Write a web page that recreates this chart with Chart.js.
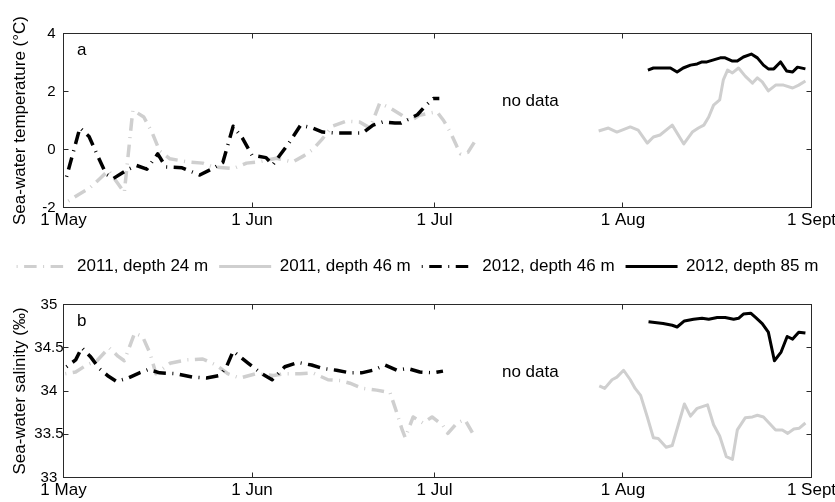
<!DOCTYPE html>
<html><head><meta charset="utf-8">
<script src="https://cdn.jsdelivr.net/npm/chart.js@4/dist/chart.umd.min.js"></script>
<style>
html,body{margin:0;padding:0;background:#fff;width:835px;height:502px;overflow:hidden;}
#ca{position:absolute;left:0;top:0;}
#cb{position:absolute;left:0;top:247px;}
</style></head><body>
<canvas id="ca" width="835" height="240"></canvas>
<canvas id="cb" width="835" height="255"></canvas>
<script>
// ---- axis ticks ----
const xTickDays = [0, 31, 61, 92, 123];            // days since 1 May
const xTickLabels = ['1 May', '1 Jun', '1 Jul', '1 Aug', '1 Sept'];
const tempTicks = [-2, 0, 2, 4];
const salTicks = [33, 33.5, 34, 34.5, 35];
const seriesLabels = ['2011, depth 24 m', '2011, depth 46 m', '2012, depth 46 m', '2012, depth 85 m'];

// ---- panel a: temperature (°C) ----
const tempDays_2011_24 = [0.8, 2.5, 4.3, 6.0, 7.4, 8.7, 10.0, 11.4, 13.2, 14.6, 15.8, 17.5, 20.2, 22.9, 24.6, 27.9, 30.1, 32.3, 35.0, 37.7, 39.5, 41.0, 42.5, 44.2, 46.5, 48.7, 50.4, 52.0, 53.7, 55.5, 57.0, 58.5, 60.0, 61.4, 62.5, 63.6, 64.7, 65.3, 66.5, 67.8];
const temp_2011_24 = [-1.78, -1.55, -1.33, -1.0, -0.72, -1.1, -1.48, 1.36, 1.12, 0.57, -0.05, -0.32, -0.42, -0.47, -0.6, -0.66, -0.47, -0.42, -0.3, -0.43, -0.22, 0.0, 0.35, 0.8, 0.98, 0.95, 0.74, 1.6, 1.43, 1.2, 0.98, 1.18, 1.25, 1.3, 1.0, 0.6, 0.1, -0.15, -0.1, 0.33];
const tempDays_2011_46 = [88.0, 89.6, 91.0, 93.2, 94.5, 96.0, 97.0, 98.1, 100.1, 102.0, 103.4, 104.4, 105.3, 106.1, 106.9, 107.9, 108.5, 109.2, 110.0, 111.0, 112.1, 113.3, 114.1, 114.9, 115.9, 117.1, 118.4, 119.9, 120.9, 122.0];
const temp_2011_46 = [0.64, 0.74, 0.6, 0.78, 0.67, 0.22, 0.43, 0.5, 0.84, 0.19, 0.6, 0.74, 0.84, 1.12, 1.53, 1.71, 2.4, 2.74, 2.64, 2.81, 2.53, 2.29, 2.47, 2.33, 2.02, 2.22, 2.22, 2.12, 2.22, 2.36];
const tempDays_2012_46 = [0.5, 2.7, 4.2, 5.8, 7.0, 8.2, 10.3, 12.0, 13.7, 15.5, 16.8, 19.5, 22.4, 24.5, 26.2, 27.9, 29.4, 31.0, 33.3, 34.4, 37.0, 39.0, 41.0, 42.6, 44.5, 47.5, 49.2, 50.9, 52.5, 54.5, 55.5, 56.8, 58.2, 59.5, 60.8, 61.8];
const temp_2012_46 = [-0.94, 0.75, 0.45, -0.3, -0.85, -1.0, -0.72, -0.55, -0.68, -0.15, -0.6, -0.63, -0.88, -0.66, -0.45, 0.8, 0.4, -0.2, -0.28, -0.53, 0.2, 0.84, 0.74, 0.6, 0.57, 0.57, 0.57, 0.84, 0.95, 0.91, 0.91, 1.05, 1.2, 1.5, 1.76, 1.76];
const tempDays_2012_85 = [96.1, 97.0, 99.8, 100.9, 101.9, 103.1, 104.2, 105.0, 105.8, 106.9, 108.0, 108.8, 110.0, 110.8, 111.8, 113.1, 114.1, 115.1, 115.9, 116.8, 117.9, 118.9, 119.9, 120.7, 122.0];
const temp_2012_85 = [2.74, 2.81, 2.81, 2.67, 2.81, 2.91, 2.95, 3.02, 3.02, 3.09, 3.16, 3.16, 3.05, 3.05, 3.19, 3.29, 3.16, 2.91, 2.78, 2.78, 3.02, 2.71, 2.67, 2.84, 2.78];

// ---- panel b: salinity (‰) ----
const salDays_2011_24 = [0.3, 2.0, 3.8, 5.5, 7.5, 9.0, 10.0, 11.7, 13.0, 14.2, 15.2, 17.5, 20.2, 22.9, 25.1, 27.0, 29.0, 31.7, 34.5, 36.5, 38.9, 41.0, 43.5, 45.5, 47.1, 49.2, 51.5, 53.7, 54.8, 55.7, 56.2, 57.5, 59.1, 60.6, 62.4, 63.2, 64.7, 66.0, 67.3];
const sal_2011_24 = [34.2, 34.22, 34.3, 34.35, 34.5, 34.4, 34.35, 34.67, 34.63, 34.44, 34.2, 34.32, 34.36, 34.37, 34.3, 34.2, 34.15, 34.2, 34.18, 34.2, 34.2, 34.21, 34.13, 34.12, 34.09, 34.03, 34.01, 33.98, 33.75, 33.55, 33.46, 33.7, 33.63, 33.7, 33.6, 33.51, 33.63, 33.67, 33.51];
const salDays_2011_46 = [88.1, 89.0, 90.2, 91.0, 92.1, 93.2, 94.0, 94.9, 96.0, 97.0, 97.8, 99.1, 100.1, 101.1, 102.1, 103.1, 104.2, 105.9, 106.9, 107.9, 109.0, 110.0, 110.8, 112.1, 113.3, 114.1, 115.1, 117.1, 118.2, 119.1, 120.1, 121.0, 122.0];
const sal_2011_46 = [34.06, 34.03, 34.13, 34.16, 34.24, 34.13, 34.03, 33.95, 33.7, 33.46, 33.45, 33.35, 33.37, 33.61, 33.85, 33.71, 33.8, 33.84, 33.61, 33.48, 33.24, 33.21, 33.55, 33.69, 33.7, 33.72, 33.7, 33.55, 33.55, 33.51, 33.56, 33.57, 33.63];
const salDays_2012_46 = [0.5, 2.0, 3.0, 4.4, 5.9, 7.4, 8.7, 10.6, 12.5, 14.0, 15.8, 18.5, 21.3, 23.5, 25.7, 26.8, 27.9, 30.4, 32.6, 34.3, 36.4, 38.6, 40.8, 42.7, 44.9, 47.1, 49.0, 50.9, 52.9, 54.8, 56.6, 58.6, 60.8, 62.4];
const sal_2012_46 = [34.28, 34.36, 34.5, 34.4, 34.26, 34.17, 34.11, 34.15, 34.21, 34.25, 34.21, 34.2, 34.16, 34.15, 34.18, 34.28, 34.46, 34.32, 34.2, 34.13, 34.28, 34.33, 34.3, 34.26, 34.24, 34.21, 34.21, 34.24, 34.3, 34.24, 34.26, 34.22, 34.21, 34.23];
const salDays_2012_85 = [96.2, 98.6, 100.1, 100.9, 102.1, 103.6, 105.0, 106.1, 107.5, 108.8, 110.2, 111.0, 111.8, 113.0, 113.8, 114.9, 115.9, 116.9, 118.0, 119.0, 119.9, 120.9, 122.0];
const sal_2012_85 = [34.8, 34.78, 34.76, 34.74, 34.81, 34.83, 34.84, 34.83, 34.85, 34.85, 34.83, 34.84, 34.89, 34.9, 34.85, 34.78, 34.68, 34.35, 34.45, 34.63, 34.6, 34.68, 34.67];

// ---- styling ----
const GREY = '#cfcfcf', BLACK = '#000000';
const DASHDOT = [1, 6.5, 12.5, 6.5];
const FONT = "'Liberation Sans', Arial, Helvetica, sans-serif";
Chart.defaults.font.family = FONT;
Chart.defaults.color = '#000';

const pts = (d, v) => d.map((x, i) => ({x, y: v[i]}));
function makeSets(d1, v1, d2, v2, d3, v3, d4, v4) {
  const base = {pointRadius: 0, tension: 0, fill: false, borderCapStyle: 'butt', borderJoinStyle: 'round'};
  return [
    Object.assign({label: seriesLabels[0], data: pts(d1, v1), borderColor: GREY, borderWidth: 3.5, borderDash: DASHDOT, order: 2}, base),
    Object.assign({label: seriesLabels[1], data: pts(d2, v2), borderColor: GREY, borderWidth: 3, borderDash: [], order: 2}, base),
    Object.assign({label: seriesLabels[2], data: pts(d3, v3), borderColor: BLACK, borderWidth: 3.5, borderDash: DASHDOT, order: 1}, base),
    Object.assign({label: seriesLabels[3], data: pts(d4, v4), borderColor: BLACK, borderWidth: 3, borderDash: [], order: 1}, base),
  ];
}

const framePlugin = {
  id: 'frame',
  afterDatasetsDraw(chart, args, opts) {
    const {ctx, chartArea: a, scales} = chart;
    const x = scales.x, y = scales.y;
    const snap = p => Math.round(p - 0.5) + 0.5;
    ctx.save();
    ctx.strokeStyle = '#2a2a2a';
    ctx.lineWidth = 1;
    ctx.setLineDash([]);
    ctx.strokeRect(a.left, a.top, a.right - a.left, a.bottom - a.top);
    const L = 5;
    ctx.beginPath();
    y.ticks.forEach(t => {
      const p = snap(y.getPixelForValue(t.value));
      ctx.moveTo(a.left, p); ctx.lineTo(a.left + L, p);
      ctx.moveTo(a.right, p); ctx.lineTo(a.right - L, p);
    });
    x.ticks.forEach(t => {
      const p = snap(x.getPixelForValue(t.value));
      ctx.moveTo(p, a.top); ctx.lineTo(p, a.top + L);
      ctx.moveTo(p, a.bottom); ctx.lineTo(p, a.bottom - L);
    });
    ctx.stroke();
    ctx.fillStyle = '#000';
    ctx.font = '17px ' + FONT;
    ctx.textAlign = 'left';
    ctx.textBaseline = 'alphabetic';
    ctx.fillText(opts.panel, a.left + 13.5, a.top + 21.5);
    ctx.fillText('no data', x.getPixelForValue(opts.noDataAt[0]), y.getPixelForValue(opts.noDataAt[1]));
    ctx.restore();
  }
};

function xScale(h, labelsOn) {
  return {
    type: 'linear', position: 'bottom', min: 0, max: 123,
    grid: {display: false, drawTicks: false},
    border: {display: false},
    afterBuildTicks: s => { s.ticks = xTickDays.map(v => ({value: v})); },
    afterFit: s => { s.height = h; s.paddingLeft = 0; s.paddingRight = 23.5; },
    ticks: {
      display: labelsOn, padding: 3, maxRotation: 0, autoSkip: false,
      font: {size: 17},
      callback: v => { const i = xTickDays.indexOf(v); return i >= 0 ? xTickLabels[i] : ''; }
    }
  };
}
function yScale(min, max, tickVals, title, cross, pad) {
  return {
    type: 'linear', position: 'left', min, max,
    grid: {display: false, drawTicks: false},
    border: {display: false},
    afterBuildTicks: s => { s.ticks = tickVals.map(v => ({value: v})); },
    afterFit: s => { s.width = 63.5; },
    title: {display: true, text: title, font: {size: 17}, padding: {top: 10, bottom: 0}},
    ticks: {padding: pad, crossAlign: cross, font: {size: 15}, callback: v => String(v)}
  };
}

new Chart(document.getElementById('ca'), {
  type: 'line',
  data: {datasets: makeSets(tempDays_2011_24, temp_2011_24, tempDays_2011_46, temp_2011_46, tempDays_2012_46, temp_2012_46, tempDays_2012_85, temp_2012_85)},
  options: {
    responsive: false, animation: false, devicePixelRatio: 1,
    layout: {padding: {top: 33.5, left: 0, right: 0, bottom: 0}},
    plugins: {legend: {display: false}, tooltip: {enabled: false}, frame: {panel: 'a', noDataAt: [72.1, 1.5]}},
    scales: {
      x: xScale(32.5, true),
      y: yScale(-2, 4, tempTicks, 'Sea-water temperature (°C)', 'near', 8)
    }
  },
  plugins: [framePlugin]
});

new Chart(document.getElementById('cb'), {
  type: 'line',
  data: {datasets: makeSets(salDays_2011_24, sal_2011_24, salDays_2011_46, sal_2011_46, salDays_2012_46, sal_2012_46, salDays_2012_85, sal_2012_85)},
  options: {
    responsive: false, animation: false, devicePixelRatio: 1,
    layout: {padding: 0},
    plugins: {
      tooltip: {enabled: false},
      frame: {panel: 'b', noDataAt: [72.1, 34.165]},
      legend: {
        display: true, position: 'top', align: 'center',
        labels: {
          usePointStyle: true, pointStyleWidth: 52, boxWidth: 52, boxHeight: 17, padding: 11,
          font: {size: 17}, color: '#000',
          generateLabels: chart => chart.data.datasets.map((ds, i) => ({
            text: ds.label, strokeStyle: ds.borderColor, fillStyle: ds.borderColor,
            lineWidth: 3, lineDash: ds.borderDash, lineCap: 'butt',
            pointStyle: 'line', hidden: false, datasetIndex: i, fontColor: '#000'
          }))
        }
      }
    },
    scales: {
      xTop: {
        type: 'linear', position: 'top', min: 0, max: 123,
        grid: {display: false, drawTicks: false}, border: {display: false},
        ticks: {display: false},
        afterFit: s => { s.height = 19.5; s.paddingLeft = 0; s.paddingRight = 0; }
      },
      x: xScale(24.5, true),
      y: yScale(33, 35, salTicks, 'Sea-water salinity (‰)', 'center', 0)
    }
  },
  plugins: [framePlugin]
});
</script>
</body></html>
